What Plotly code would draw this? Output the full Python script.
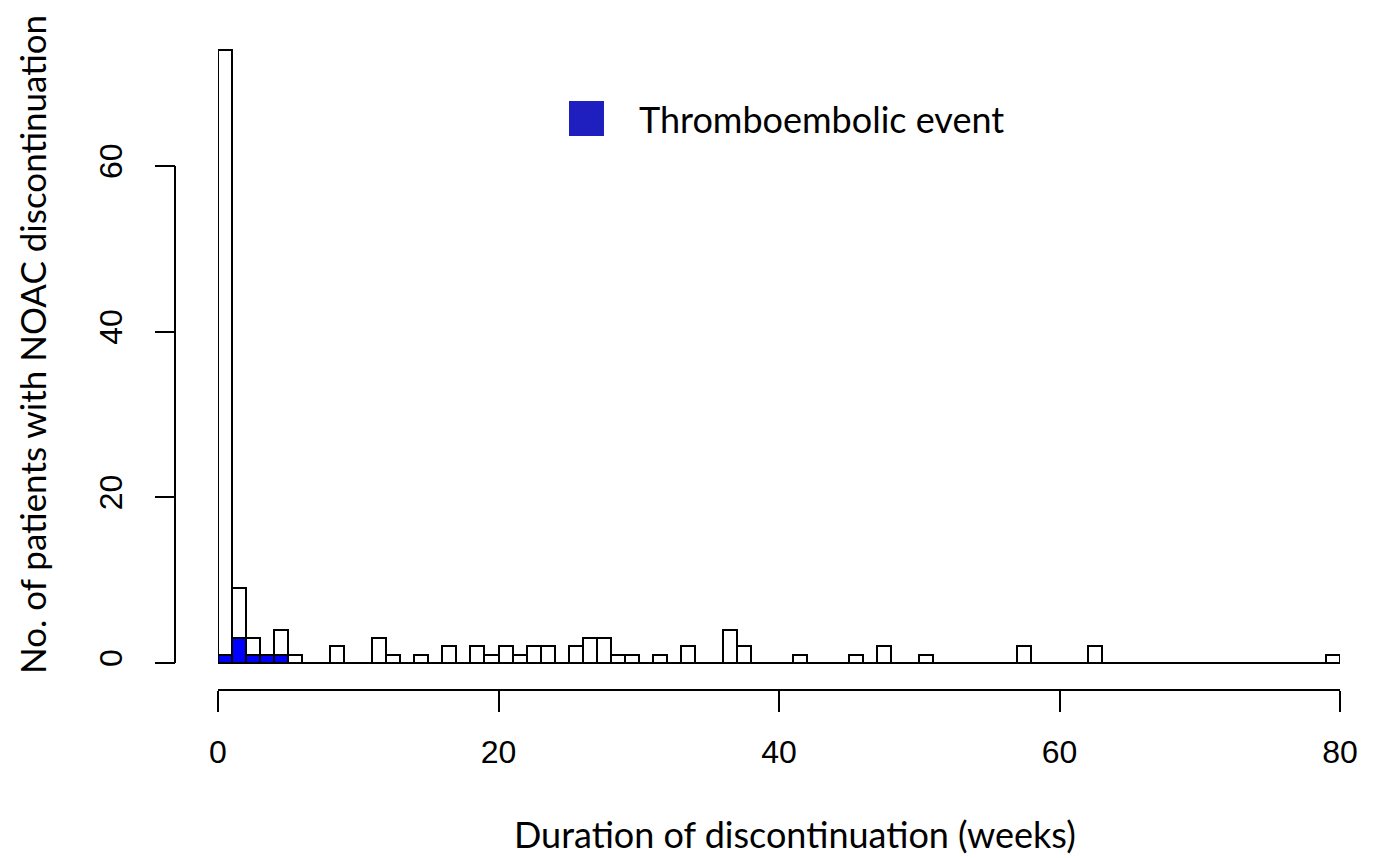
import plotly.graph_objects as go

# Histogram bins (week start) and counts of patients (all discontinuations)
week_start = [0, 1, 2, 3, 4, 5, 8, 11, 12, 14, 16, 18, 19, 20, 21, 22, 23, 25, 26, 27,
              28, 29, 31, 33, 36, 37, 41, 45, 47, 50, 57, 62, 79]
all_counts = [74, 9, 3, 1, 4, 1, 2, 3, 1, 1, 2, 2, 1, 2, 1, 2, 2, 2, 3, 3,
              1, 1, 1, 2, 4, 2, 1, 1, 2, 1, 2, 2, 1]

# Patients with thromboembolic event
event_week_start = [0, 1, 2, 3, 4]
event_counts = [1, 3, 1, 1, 1]

x_ticks = [0, 20, 40, 60, 80]
y_ticks = [0, 20, 40, 60]

legend_label = "Thromboembolic event"
x_title = "Duration of discontinuation (weeks)"
y_title = "No. of patients with NOAC discontinuation"

TEXT_FONT = "Lato"
TICK_FONT = "Liberation Sans"

OFF = 8  # page body margin of the html output
W, H = 1376 - OFF, 858 - OFF


def px(v):
    return v - OFF


ml, mt = px(175), px(20)
mr = W - px(1340)
mb = H - px(689)
plot_w = W - ml - mr
plot_h = H - mt - mb
x_dom0 = (px(218) - ml) / plot_w


def fx(page_x):
    return (px(page_x) - ml) / plot_w


def fy(page_y):
    return 1 - (px(page_y) - mt) / plot_h


fig = go.Figure()
fig.add_trace(go.Bar(
    x=week_start, y=all_counts, width=1, offset=0,
    marker=dict(color="white", line=dict(color="black", width=2)),
    showlegend=False, hoverinfo="x+y"))
fig.add_trace(go.Bar(
    x=event_week_start, y=event_counts, width=1, offset=0,
    marker=dict(color="#0000FF", line=dict(color="black", width=2)),
    showlegend=False, hoverinfo="x+y"))

# baseline of histogram (zero-height bins)
fig.add_shape(type="line", xref="x", yref="y", x0=x_ticks[0], x1=x_ticks[-1], y0=0, y1=0,
              line=dict(color="black", width=2), layer="below")
# y axis line from first to last tick (R style)
fig.add_shape(type="line", xref="paper", yref="y", x0=0, x1=0, y0=y_ticks[0], y1=y_ticks[-1],
              line=dict(color="black", width=2))

# legend
fig.add_shape(type="rect", xref="paper", yref="paper",
              x0=fx(569), x1=fx(604), y0=fy(136), y1=fy(101),
              fillcolor="#1F1FC0", line=dict(width=0))
fig.add_annotation(text=legend_label, xref="paper", yref="paper",
                   x=fx(637), y=fy(119),
                   xanchor="left", yanchor="middle", showarrow=False,
                   font=dict(family=TEXT_FONT, size=36, color="black"))

# axis titles
fig.add_annotation(text=x_title, xref="paper", yref="paper",
                   x=fx(795), y=fy(834),
                   xanchor="center", yanchor="middle", showarrow=False,
                   font=dict(family=TEXT_FONT, size=36, color="black"))
fig.add_annotation(text=y_title, xref="paper", yref="paper", textangle=-90,
                   x=fx(32), y=fy(345),
                   xanchor="center", yanchor="middle", showarrow=False,
                   font=dict(family=TEXT_FONT, size=35, color="black"))

px_per_unit = (663 - 166) / 60.0
y_top = (663 - 20) / px_per_unit
y_bot = -(689 - 663) / px_per_unit

fig.update_layout(
    width=W, height=H,
    margin=dict(l=ml, r=mr, t=mt, b=mb, pad=0),
    paper_bgcolor="white", plot_bgcolor="white",
    barmode="overlay", bargap=0,
    xaxis=dict(domain=[x_dom0, 1], range=[0, 80], tickvals=x_ticks,
               showgrid=False, zeroline=False, showline=True, linecolor="black", linewidth=2,
               ticks="outside", ticklen=21, tickwidth=2, tickcolor="black",
               ticklabelstandoff=13,
               tickfont=dict(family=TICK_FONT, size=32, color="black")),
    yaxis=dict(range=[y_bot, y_top], tickvals=y_ticks, anchor="free", position=0,
               showgrid=False, zeroline=False, showline=False,
               ticks="outside", ticklen=20, tickwidth=2, tickcolor="black",
               tickangle=-90, ticklabelstandoff=20,
               tickfont=dict(family=TICK_FONT, size=32, color="black")),
)

fig.write_html("out.html")
